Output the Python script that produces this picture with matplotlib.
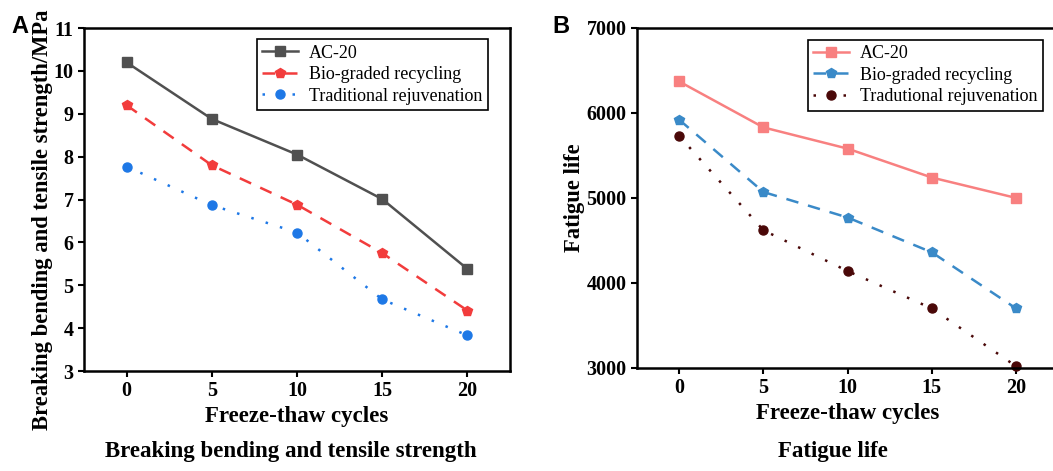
import matplotlib
matplotlib.use("Agg")
from matplotlib import pyplot as plt

plt.rcParams['font.family'] = ['Liberation Serif', 'DejaVu Serif']
plt.rcParams['axes.linewidth'] = 1.8

cycles = [0, 5, 10, 15, 20]

# breaking bending and tensile strength (MPa)
strength_ac20 = [10.2, 8.88, 8.05, 7.01, 5.38]
strength_bio = [9.2, 7.8, 6.88, 5.75, 4.41]
strength_trad = [7.77, 6.87, 6.23, 4.67, 3.83]

# fatigue life
fatigue_ac20 = [6370, 5830, 5580, 5240, 5000]
fatigue_bio = [5920, 5070, 4770, 4360, 3700]
fatigue_trad = [5730, 4620, 4140, 3700, 3020]

fig = plt.figure(figsize=(10.53, 4.71), dpi=100)
ax1 = fig.add_axes([0.0798, 0.2123, 0.4046, 0.728])
ax2 = fig.add_axes([0.605, 0.2187, 0.400, 0.722])


def style_axes(ax):
    ax.set_xlim(-2.5, 22.5)
    ax.set_xticks(cycles)
    ax.tick_params(direction='out', length=4, width=1.5, labelsize=14.5)
    for lab in ax.get_xticklabels() + ax.get_yticklabels():
        lab.set_fontweight('bold')
    ax.set_xlabel('Freeze-thaw cycles', fontsize=16.5, fontweight='bold', labelpad=3)


def add_legend(ax, x, y):
    leg = ax.legend(loc='upper right', fontsize=13, fancybox=False, edgecolor='black',
                    framealpha=1, handlelength=2.0, handletextpad=0.6, borderpad=0.3,
                    labelspacing=0.25, borderaxespad=0, bbox_to_anchor=(x, y))
    leg.get_frame().set_linewidth(1.2)


# panel A
ax1.plot(cycles, strength_ac20, color='#505050', marker='s', ms=6.5, lw=1.8, label='AC-20')
ax1.plot(cycles, strength_bio, color='#f23c3c', marker='p', ms=7.5, lw=1.8, ls=(0, (5, 4)),
         label='Bio-graded recycling')
ax1.plot(cycles, strength_trad, color='#1e78e6', marker='o', ms=6.5, lw=1.8, ls=(0, (1, 5)),
         label='Traditional rejuvenation')
ax1.set_ylim(3, 11)
ax1.set_yticks(range(3, 12))
style_axes(ax1)
ax1.set_ylabel('Breaking bending and tensile strength/MPa', fontsize=16.3, fontweight='bold')
ax1.yaxis.set_label_coords(-0.074, 0.44)
add_legend(ax1, 0.948, 0.968)

# panel B
ax2.plot(cycles, fatigue_ac20, color='#f88080', marker='s', ms=6.5, lw=1.8, label='AC-20')
ax2.plot(cycles, fatigue_bio, color='#3a8ac8', marker='p', ms=7.5, lw=1.8, ls=(0, (5, 4)),
         label='Bio-graded recycling')
ax2.plot(cycles, fatigue_trad, color='#4a0808', marker='o', ms=6.5, lw=1.8, ls=(0, (1, 5)),
         label='Tradutional rejuvenation', clip_on=False)
ax2.set_ylim(3000, 7000)
ax2.set_yticks(range(3000, 7001, 1000))
style_axes(ax2)
ax2.set_ylabel('Fatigue life', fontsize=16.3, fontweight='bold')
ax2.yaxis.set_label_coords(-0.124, 0.5)
add_legend(ax2, 0.964, 0.965)

# panel letters and captions
fig.text(0.011, 0.968, 'A', fontsize=17, fontweight='bold', family='Liberation Sans', va='top')
fig.text(0.525, 0.968, 'B', fontsize=17, fontweight='bold', family='Liberation Sans', va='top')
fig.text(0.276, 0.03, 'Breaking bending and tensile strength', fontsize=16.5,
         fontweight='bold', ha='center')
fig.text(0.791, 0.03, 'Fatigue life', fontsize=16.5, fontweight='bold', ha='center')

fig.savefig('out.png', dpi=100)
